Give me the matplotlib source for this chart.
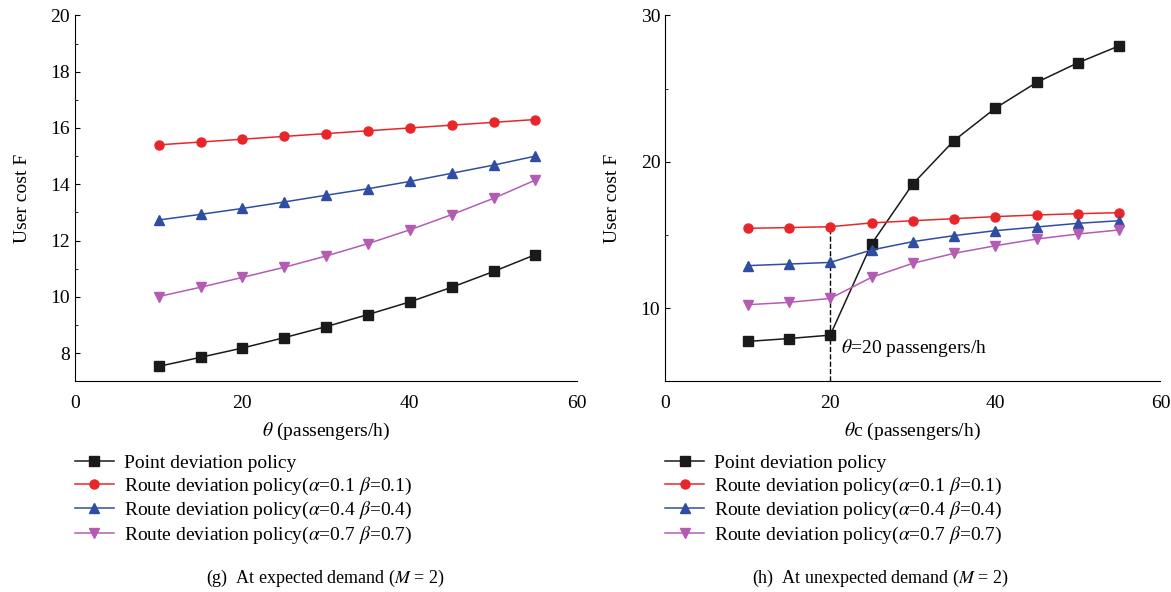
import matplotlib
matplotlib.use("Agg")
import matplotlib.pyplot as plt
from matplotlib.ticker import MultipleLocator

plt.rcParams['font.family'] = ['Liberation Serif', 'DejaVu Serif']
plt.rcParams['mathtext.fontset'] = 'stix'

theta = [10, 15, 20, 25, 30, 35, 40, 45, 50, 55]

# (g) expected demand
g_point = [7.53, 7.85, 8.18, 8.55, 8.94, 9.37, 9.82, 10.34, 10.9, 11.5]
g_r01 = [15.4, 15.5, 15.6, 15.7, 15.8, 15.9, 16.0, 16.1, 16.2, 16.3]
g_r04 = [12.73, 12.93, 13.14, 13.37, 13.61, 13.84, 14.1, 14.39, 14.68, 15.0]
g_r07 = [10.01, 10.34, 10.69, 11.05, 11.45, 11.89, 12.38, 12.92, 13.5, 14.15]

# (h) unexpected demand
h_point = [7.72, 7.92, 8.15, 14.38, 18.48, 21.45, 23.66, 25.42, 26.76, 27.92]
h_r01 = [15.45, 15.5, 15.56, 15.82, 15.97, 16.11, 16.25, 16.36, 16.45, 16.52]
h_r04 = [12.9, 13.01, 13.12, 13.97, 14.54, 14.95, 15.29, 15.54, 15.79, 15.97]
h_r07 = [10.23, 10.39, 10.66, 12.1, 13.06, 13.74, 14.26, 14.72, 15.06, 15.34]

labels = ['Point deviation policy',
          r'Route deviation policy($\alpha$=0.1 $\beta$=0.1)',
          r'Route deviation policy($\alpha$=0.4 $\beta$=0.4)',
          r'Route deviation policy($\alpha$=0.7 $\beta$=0.7)']
colors = ['#1a1a1a', '#e8262a', '#2f4ea2', '#b45cb3']
markers = ['s', 'o', '^', 'v']


def draw(ax, series, ylim, major, xlabel):
    for y, c, m, lab in zip(series, colors, markers, labels):
        ax.plot(theta, y, color=c, marker=m, markersize=6.5, linewidth=1.1, label=lab)
    ax.set_xlim(0, 60)
    ax.set_ylim(*ylim)
    ax.xaxis.set_major_locator(MultipleLocator(20))
    ax.yaxis.set_major_locator(MultipleLocator(major))
    ax.yaxis.set_minor_locator(MultipleLocator(major / 2))
    ax.spines['top'].set_visible(False)
    ax.spines['right'].set_visible(False)
    ax.tick_params(axis='y', which='both', direction='in', labelsize=14)
    ax.tick_params(axis='x', direction='in', length=0, labelsize=14, pad=10)
    ax.set_ylabel('User cost F', fontsize=14, labelpad=14)
    ax.set_xlabel(xlabel, fontsize=14, labelpad=6)
    ax.legend(loc='upper left', bbox_to_anchor=(0.0, -0.2), frameon=False,
              fontsize=14, handlelength=2.0, handletextpad=0.5,
              labelspacing=0.18, borderpad=0, borderaxespad=0)


fig = plt.figure(figsize=(11.71, 5.92), dpi=100)
ax1 = fig.add_axes([0.064, 0.356, 0.429, 0.618])
ax2 = fig.add_axes([0.568, 0.356, 0.423, 0.618])

draw(ax1, [g_point, g_r01, g_r04, g_r07], (7, 20), 2, r'$\theta$ (passengers/h)')
draw(ax2, [h_point, h_r01, h_r04, h_r07], (5, 30), 10, r'$\theta$c (passengers/h)')

ax2.plot([20, 20], [5, h_r01[2]], color='black', linestyle='--', linewidth=1.0, zorder=1)
ax2.text(21.3, 7.3, r'$\theta$=20 passengers/h', fontsize=14, va='center')

fig.text(0.278, 0.015, r'(g)  At expected demand ($M$ = 2)', ha='center', fontsize=13)
fig.text(0.752, 0.015, r'(h)  At unexpected demand ($M$ = 2)', ha='center', fontsize=13)

fig.savefig('out.png', dpi=100)
